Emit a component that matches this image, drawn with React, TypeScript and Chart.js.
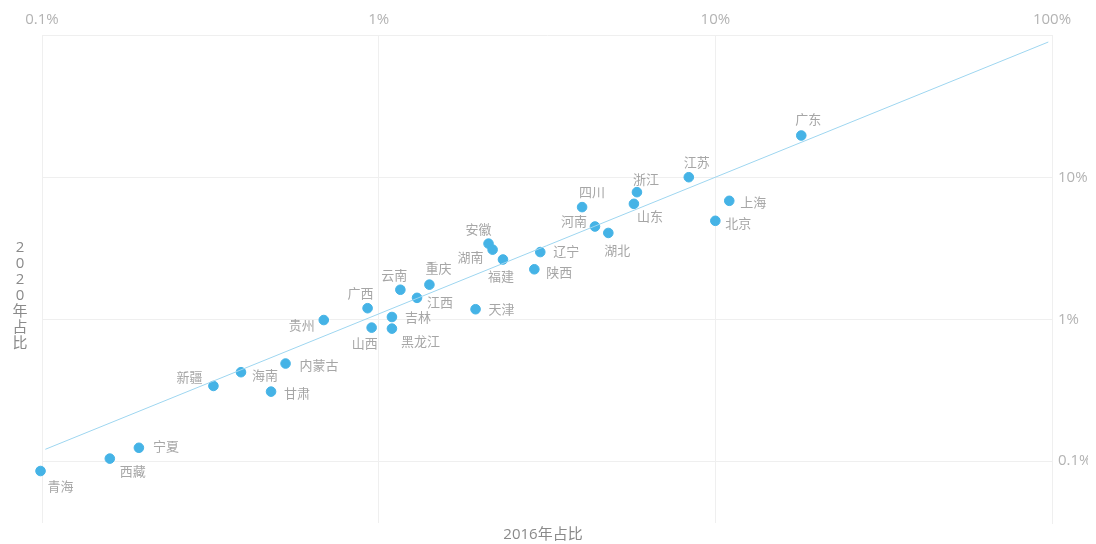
import React, { useEffect, useLayoutEffect, useRef } from "react";
import { Chart, registerables } from "chart.js";

Chart.register(...registerables);

// Provinces and their share (%) of the national total in 2016 (x) and 2020 (y)
const provinces = [
  "青海", "西藏", "宁夏", "新疆", "海南", "甘肃", "内蒙古", "贵州", "广西", "山西",
  "云南", "吉林", "黑龙江", "江西", "重庆", "天津", "安徽", "湖南", "福建", "陕西",
  "辽宁", "四川", "河南", "湖北", "山东", "浙江", "江苏", "北京", "上海", "广东",
];
const share2016 = [
  0.099, 0.159, 0.194, 0.323, 0.39, 0.479, 0.529, 0.687, 0.927, 0.953,
  1.16, 1.095, 1.095, 1.3, 1.415, 1.94, 2.12, 2.18, 2.34, 2.9,
  3.02, 4.02, 4.39, 4.81, 5.73, 5.85, 8.34, 10.0, 11.0, 18.0,
];
const share2020 = [
  0.085, 0.104, 0.124, 0.339, 0.424, 0.309, 0.488, 0.99, 1.2, 0.875,
  1.62, 1.04, 0.861, 1.42, 1.76, 1.18, 3.43, 3.11, 2.65, 2.26,
  2.99, 6.21, 4.53, 4.08, 6.55, 7.92, 10.1, 4.97, 6.88, 19.9,
];
// Trend line end points (x %, y %)
const trendX = [0.1023, 97.5];
const trendY = [0.121, 91.0];

const xTicks = [0.1, 1, 10, 100];
const yTicks = [0.1, 1, 10];

const xTitle = "2016年占比";
const yTitle = "2020年占比";

// label placement per province: [align, dx, dy] (style only)
const labelPlacement: [CanvasTextAlign, number, number][] = [
  ["left", 7, 16], ["left", 10, 14], ["left", 14, 0], ["right", -11, -8], ["left", 11, 4],
  ["left", 13, 3], ["left", 14, 3], ["right", -9, 6], ["center", -7, -14], ["center", -7, 17],
  ["center", -6, -13], ["left", 13, 1], ["left", 9, 14], ["left", 10, 5], ["center", 9, -15],
  ["left", 13, 1], ["center", -10, -13], ["right", -9, 9], ["center", -2, 18], ["left", 12, 4],
  ["left", 13, 0], ["center", 10, -14], ["right", -8, -4], ["center", 9, 18], ["center", 16, 13],
  ["center", 9, -12], ["center", 8, -14], ["left", 10, 3], ["left", 11, 2], ["center", 7, -15],
];

const FONT = '"Open Sans", "Noto Sans CJK SC", sans-serif';

const labelPlugin = {
  id: "pointLabels",
  afterDatasetsDraw(chart: any) {
    const ctx = chart.ctx;
    const meta = chart.getDatasetMeta(1);
    ctx.save();
    ctx.font = `13px ${FONT}`;
    ctx.fillStyle = "#a6a6a6";
    ctx.textBaseline = "middle";
    meta.data.forEach((el: any, i: number) => {
      const [align, dx, dy] = labelPlacement[i];
      ctx.textAlign = align;
      ctx.fillText(provinces[i], el.x + dx, el.y + dy);
    });
    ctx.restore();
  },
};

const titlePlugin = {
  id: "axisTitles",
  afterDraw(chart: any) {
    const ctx = chart.ctx;
    const area = chart.chartArea;
    ctx.save();
    ctx.font = `15px ${FONT}`;
    ctx.fillStyle = "#8a8a8a";
    ctx.textAlign = "center";
    ctx.textBaseline = "middle";
    ctx.fillText(xTitle, (area.left + area.right) / 2 - 4, area.bottom + 12);
    const chars = Array.from(yTitle);
    const step = 16;
    const startY = 240;
    chars.forEach((c, i) => {
      ctx.fillText(c, 12, startY + i * step);
    });
    ctx.restore();
  },
};

const fmtPct = (v: number) => `${v}%`;

export default function App() {
  const ref = useRef<HTMLCanvasElement | null>(null);
  useLayoutEffect(() => {
    const prev = document.body.style.margin;
    document.body.style.margin = "0";
    return () => {
      document.body.style.margin = prev;
    };
  }, []);
  useEffect(() => {
    if (!ref.current) return;
    const chart = new Chart(ref.current, {
      type: "scatter",
      data: {
        datasets: [
          {
            type: "line",
            data: trendX.map((x, i) => ({ x, y: trendY[i] })),
            borderColor: "#9ed6f0",
            borderWidth: 1,
            pointRadius: 0,
            fill: false,
          } as any,
          {
            data: share2016.map((x, i) => ({ x, y: share2020[i] })),
            backgroundColor: "#45b3e6",
            borderColor: "#45b3e6",
            pointRadius: 4.8,
            pointHoverRadius: 4.8,
            clip: false,
          },
        ],
      },
      options: {
        animation: false,
        responsive: false,
        maintainAspectRatio: false,
        layout: { padding: { left: 34, bottom: 21, top: 0, right: 0 } },
        plugins: { legend: { display: false }, tooltip: { enabled: false } },
        scales: {
          x: {
            type: "logarithmic",
            position: "top",
            min: 0.1,
            max: 100,
            afterBuildTicks: (s: any) => {
              s.ticks = xTicks.map((v) => ({ value: v }));
            },
            afterFit: (s: any) => {
              s.height = 27;
            },
            grid: { color: "#efefef", drawTicks: false, lineWidth: 1 },
            border: { display: true, color: "#efefef" },
            ticks: {
              padding: 6,
              color: "#b3b3b3",
              font: { size: 15, family: FONT },
              maxRotation: 0,
              autoSkip: false,
              callback: (v: any) => fmtPct(v),
            },
          },
          y: {
            type: "logarithmic",
            position: "right",
            min: 0.0365,
            max: 102,
            afterBuildTicks: (s: any) => {
              s.ticks = yTicks.map((v) => ({ value: v }));
            },
            afterFit: (s: any) => {
              s.width = 36;
            },
            grid: { color: "#efefef", drawTicks: false, lineWidth: 1 },
            border: { display: true, color: "#efefef" },
            ticks: {
              padding: 6,
              color: "#b3b3b3",
              font: { size: 15, family: FONT },
              autoSkip: false,
              callback: (v: any) => fmtPct(v),
            },
          },
        },
      },
      plugins: [labelPlugin, titlePlugin],
    } as any);
    return () => chart.destroy();
  }, []);
  return (
    <div style={{ width: 1080, height: 536, padding: 8 , paddingBottom: 0, overflow: "hidden" }}>
      <canvas ref={ref} width={1080} height={536} style={{ display: "block" }} />
    </div>
  );
}
